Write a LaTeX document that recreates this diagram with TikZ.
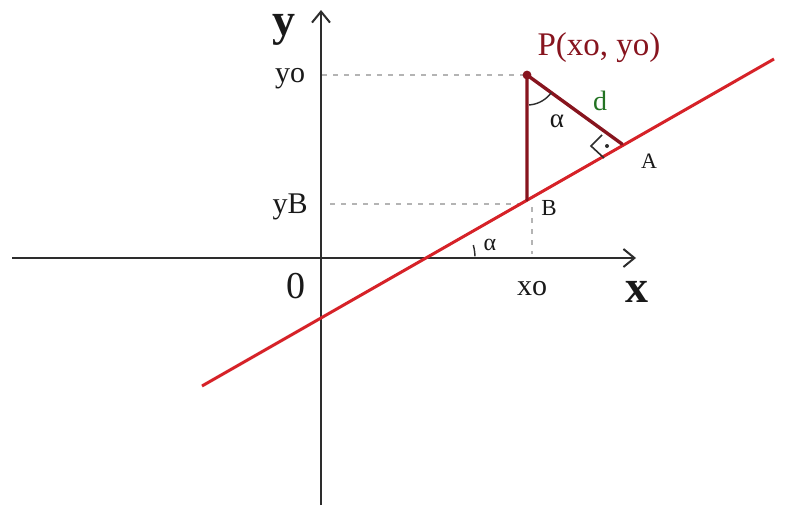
\documentclass[tikz,border=0pt]{standalone}
\usepackage{fontspec}
\setmainfont{Liberation Serif}
\usetikzlibrary{arrows.meta}
\definecolor{axisc}{RGB}{45,45,45}
\definecolor{linered}{RGB}{214,34,40}
\definecolor{darkred}{RGB}{135,20,30}
\definecolor{dgreen}{RGB}{35,115,35}
\definecolor{dashgray}{RGB}{180,180,180}
\definecolor{txt}{RGB}{25,25,25}
\tikzset{
  axisline/.style={draw=axisc, line width=2.4pt, -{Straight Barb[length=11pt,width=18pt,line width=2pt]}},
  guide/.style={draw=dashgray, line width=2.2pt, dash pattern=on 5pt off 6pt},
  redline/.style={draw=linered, line width=3pt},
  triside/.style={draw=darkred, line width=3.4pt, line cap=round},
  lbl/.style={anchor=base, inner sep=0pt, text=txt},
}
\newcommand{\fs}[1]{\fontsize{#1}{#1}\selectfont}
\begin{document}
\begin{tikzpicture}[x=1pt,y=-1pt]
\useasboundingbox[fill=white] (0,0) rectangle (786,507);
% key points (pixel coordinates, y downwards)
\coordinate (O) at (321,258);
\coordinate (xs) at (12,258);
\coordinate (xe) at (636,258);
\coordinate (ys) at (321,505);
\coordinate (ye) at (321,10);
\coordinate (L1) at (202,386);
\coordinate (L2) at (774,59);
\coordinate (P) at (527,75);
\coordinate (B) at (527,200);
\coordinate (A) at (622,144);
\coordinate (yoL) at (322,75);
\coordinate (yBL) at (330,204);
\coordinate (yBR) at (527,204);
\coordinate (xoT) at (532,207);
\coordinate (xoB) at (532,254);
% guides
\draw[guide] (yoL) -- (P);
\draw[guide] (yBL) -- (yBR);
\draw[guide] (xoT) -- (xoB);
% axes
\draw[axisline] (xs) -- (xe);
\draw[axisline] (ys) -- (ye);
% red line
\draw[redline] (L1) -- (L2);
% triangle
\draw[triside] (B) -- (P) -- (A);
\fill[darkred] (P) circle (4.4pt);
% right angle mark
\coordinate (r1) at (602,135);
\coordinate (r2) at (591,146);
\coordinate (r3) at (604,158);
\draw[axisc, line width=1.6pt] (r1) -- (r2) -- (r3);
\fill[axisc] (607,146) circle (2pt);
% angle arcs
\draw[axisc, line width=1.4pt] plot[domain=36:86, samples=25] ({527+30*cos(\x)},{75+30*sin(\x)});
\draw[axisc, line width=1.4pt] plot[domain=-15:-2, samples=10] ({425+50*cos(\x)},{258+50*sin(\x)});
% labels
\node[lbl, font=\fs{46}\bfseries] (ylab) at (284,35) {y};
\node[lbl, font=\fs{46}\bfseries] (xlab) at (637,302) {x};
\node[lbl, font=\fs{38}] (zlab) at (296,298) {0};
\node[lbl, font=\fs{30}] (yolab) at (290,82) {yo};
\node[lbl, font=\fs{30}] (yBlab) at (290,213) {yB};
\node[lbl, font=\fs{30}] (xolab) at (532,295) {xo};
\node[lbl, font=\fs{33}, text=darkred] (Plab) at (599,55) {P(xo, yo)};
\node[lbl, font=\fs{28}, text=dgreen] (dlab) at (600,110) {d};
\node[lbl, font=\fs{27}] (a1lab) at (557,127) {α};
\node[lbl, font=\fs{24}] (a2lab) at (490,250) {α};
\node[lbl, font=\fs{22}] (Alab) at (649,168) {A};
\node[lbl, font=\fs{23}] (Blab) at (549,215) {B};
\end{tikzpicture}
\end{document}
